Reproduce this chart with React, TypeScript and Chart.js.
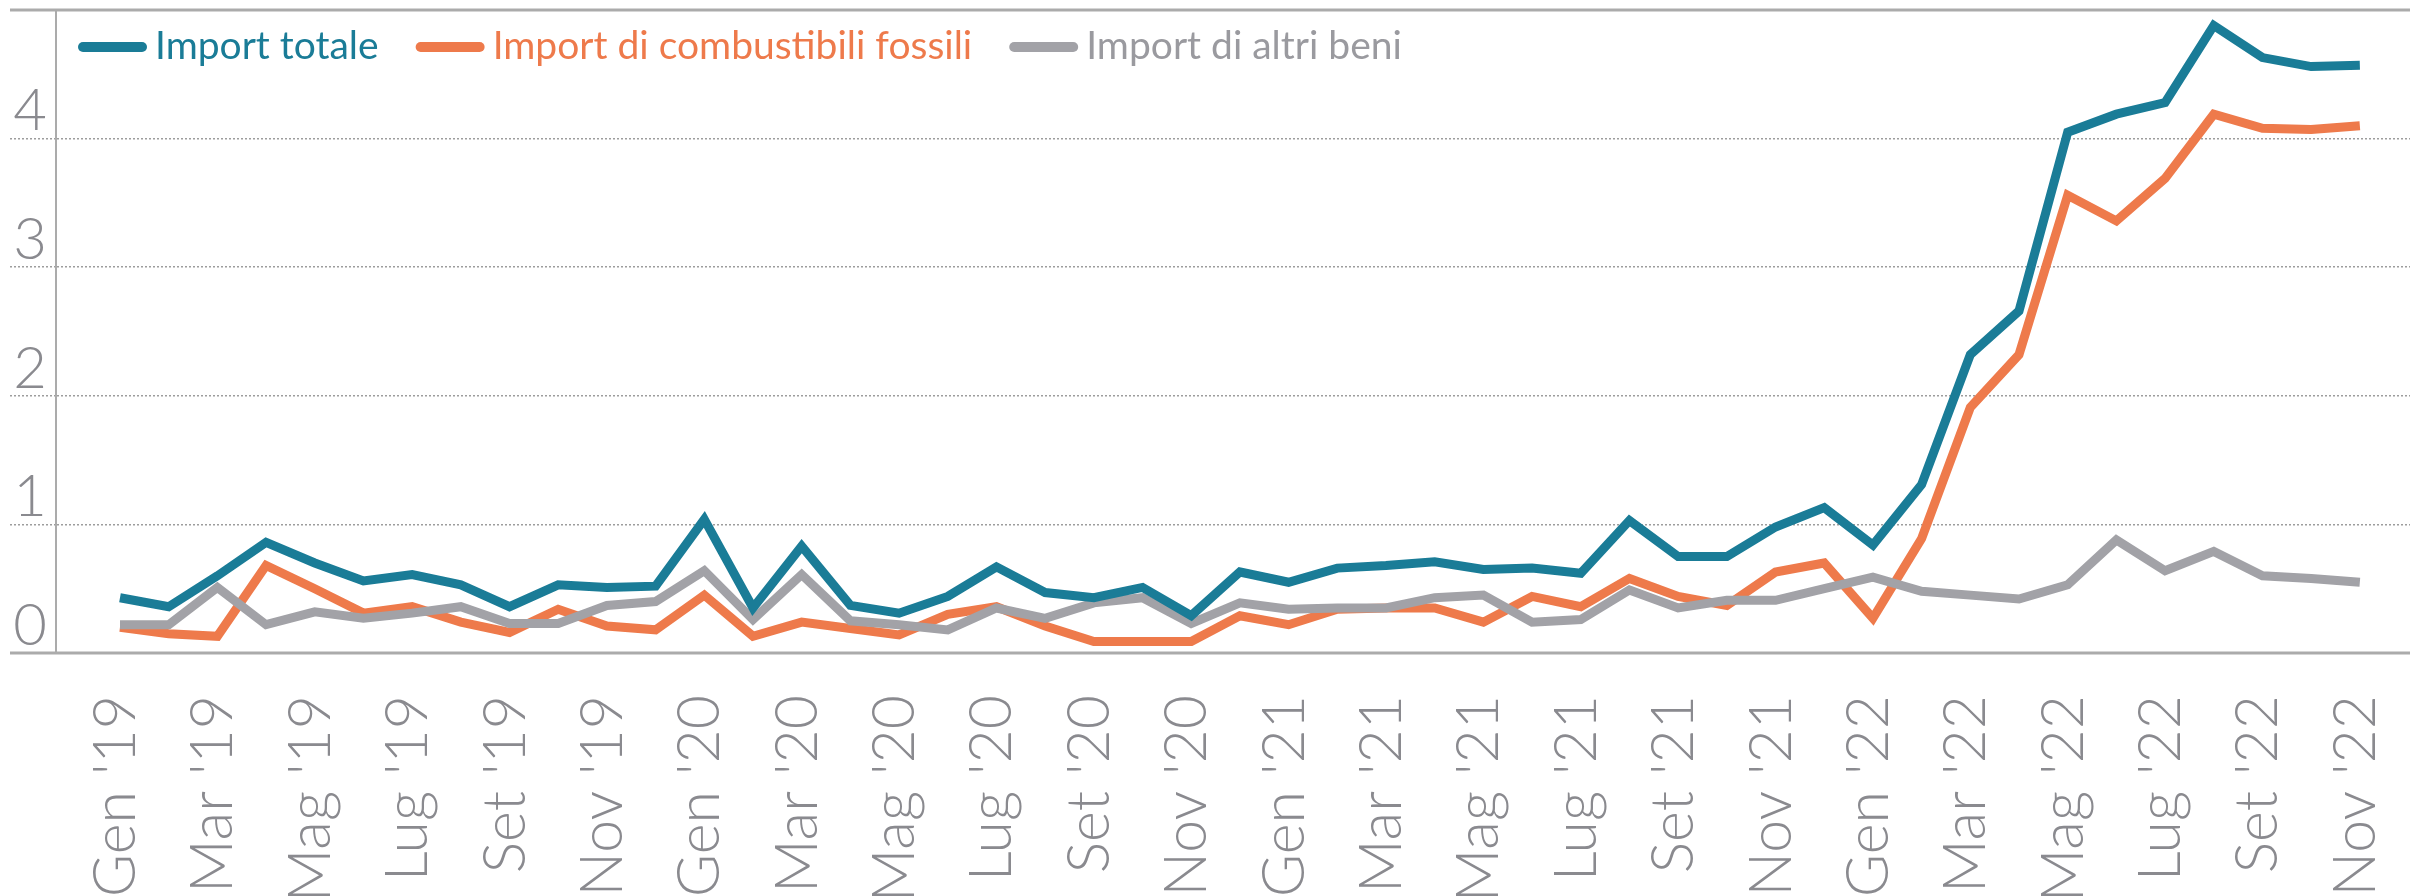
import React, { useEffect, useRef } from 'react';
import { Chart, registerables } from 'chart.js';

Chart.register(...registerables);

const months: string[] = [
  "Gen '19", "Feb '19", "Mar '19", "Apr '19", "Mag '19", "Giu '19", "Lug '19", "Ago '19", "Set '19", "Ott '19", "Nov '19", "Dic '19",
  "Gen '20", "Feb '20", "Mar '20", "Apr '20", "Mag '20", "Giu '20", "Lug '20", "Ago '20", "Set '20", "Ott '20", "Nov '20", "Dic '20",
  "Gen '21", "Feb '21", "Mar '21", "Apr '21", "Mag '21", "Giu '21", "Lug '21", "Ago '21", "Set '21", "Ott '21", "Nov '21", "Dic '21",
  "Gen '22", "Feb '22", "Mar '22", "Apr '22", "Mag '22", "Giu '22", "Lug '22", "Ago '22", "Set '22", "Ott '22", "Nov '22",
];

const importTotale: number[] = [
  0.43, 0.36, 0.60, 0.86, 0.70, 0.56, 0.61, 0.53, 0.36, 0.53, 0.51, 0.52,
  1.04, 0.35, 0.83, 0.37, 0.31, 0.44, 0.67, 0.47, 0.43, 0.51, 0.29, 0.63,
  0.55, 0.66, 0.68, 0.71, 0.65, 0.66, 0.62, 1.03, 0.75, 0.75, 0.98, 1.13,
  0.84, 1.31, 2.32, 2.66, 4.05, 4.19, 4.28, 4.88, 4.63, 4.56, 4.57,
];

const importFossili: number[] = [
  0.20, 0.15, 0.13, 0.68, 0.50, 0.31, 0.36, 0.24, 0.16, 0.34, 0.21, 0.18,
  0.45, 0.13, 0.24, 0.19, 0.14, 0.30, 0.36, 0.21, 0.09, 0.09, 0.09, 0.29,
  0.22, 0.34, 0.35, 0.35, 0.24, 0.44, 0.36, 0.58, 0.44, 0.37, 0.63, 0.70,
  0.27, 0.89, 1.91, 2.32, 3.56, 3.36, 3.69, 4.19, 4.08, 4.07, 4.10,
];

const importAltri: number[] = [
  0.22, 0.22, 0.51, 0.22, 0.32, 0.27, 0.31, 0.36, 0.23, 0.23, 0.37, 0.40,
  0.64, 0.26, 0.61, 0.25, 0.22, 0.18, 0.35, 0.27, 0.39, 0.43, 0.23, 0.39,
  0.34, 0.35, 0.35, 0.43, 0.45, 0.24, 0.26, 0.49, 0.35, 0.41, 0.41, 0.50,
  0.59, 0.48, 0.45, 0.42, 0.53, 0.88, 0.64, 0.79, 0.60, 0.58, 0.55,
];

const seriesLabels: string[] = ['Import totale', 'Import di combustibili fossili', 'Import di altri beni'];
const yTicks: number[] = [0, 1, 2, 3, 4];

const BLUE = '#1a7c97';
const ORANGE = '#ee7a4b';
const GRAY = '#a2a2a7';
const AXIS = '#ababab';
const TEXT_GRAY = '#8a8a8f';

const W = 2410;
const H = 896;

const solidLinesPlugin = {
  id: 'solidLines',
  beforeDatasetsDraw(chart: any) {
    const { ctx, chartArea } = chart;
    const y = chart.scales.y;
    ctx.save();
    ctx.strokeStyle = AXIS;
    ctx.lineWidth = 3;
    ctx.setLineDash([]);
    [0, 5].forEach((v) => {
      const py = Math.round(y.getPixelForValue(v));
      ctx.beginPath();
      ctx.moveTo(chartArea.left - 46, py);
      ctx.lineTo(chart.width, py);
      ctx.stroke();
    });
    ctx.restore();
  },
};

const legendPlugin = {
  id: 'customLegend',
  afterDraw(chart: any) {
    const { ctx } = chart;
    ctx.save();
    ctx.font = '400 39px Lato';
    ctx.textBaseline = 'alphabetic';
    let x = 78;
    const cy = 47;
    chart.data.datasets.forEach((ds: any) => {
      ctx.fillStyle = ds.borderColor;
      ctx.beginPath();
      if (ctx.roundRect) {
        ctx.roundRect(x, cy - 5, 69, 10, 5);
      } else {
        ctx.rect(x, cy - 5, 69, 10);
      }
      ctx.fill();
      x += 69 + 8;
      ctx.fillStyle = ds.legendTextColor || ds.borderColor;
      ctx.fillText(ds.label, x, 59);
      x += ctx.measureText(ds.label).width + 37;
    });
    ctx.restore();
  },
};

export default function App() {
  const canvasRef = useRef<HTMLCanvasElement | null>(null);

  useEffect(() => {
    if (!canvasRef.current) return;
    const toPoints = (arr: number[]) => arr.map((v, i) => ({ x: i, y: v }));
    const chart = new Chart(canvasRef.current, {
      type: 'line',
      data: {
        datasets: [
          {
            label: seriesLabels[0],
            data: toPoints(importTotale),
            borderColor: BLUE,
            backgroundColor: BLUE,
            borderWidth: 9,
            pointRadius: 0,
            tension: 0,
            order: 0,
            legendTextColor: BLUE,
          } as any,
          {
            label: seriesLabels[1],
            data: toPoints(importFossili),
            borderColor: ORANGE,
            backgroundColor: ORANGE,
            borderWidth: 9,
            pointRadius: 0,
            tension: 0,
            order: 2,
            legendTextColor: ORANGE,
          } as any,
          {
            label: seriesLabels[2],
            data: toPoints(importAltri),
            borderColor: GRAY,
            backgroundColor: GRAY,
            borderWidth: 9,
            pointRadius: 0,
            tension: 0,
            order: 1,
            legendTextColor: '#9a9a9f',
          } as any,
        ],
      },
      options: {
        responsive: false,
        animation: false,
        devicePixelRatio: 1,
        layout: { padding: { top: 10, left: 0, right: 0, bottom: 0 } },
        plugins: {
          legend: { display: false },
          tooltip: { enabled: false },
        },
        scales: {
          x: {
            type: 'linear',
            min: -1.314,
            max: 47.03,
            grid: { display: false, drawTicks: false },
            border: { display: false },
            afterBuildTicks: (scale: any) => {
              scale.ticks = months
                .map((_, i) => ({ value: i }))
                .filter((t) => t.value % 2 === 0);
            },
            afterFit: (scale: any) => {
              scale.height = H - 653;
              scale.paddingLeft = 0;
              scale.paddingRight = 0;
            },
            ticks: {
              autoSkip: false,
              minRotation: 90,
              maxRotation: 90,
              padding: 42,
              labelOffset: -4,
              color: TEXT_GRAY,
              font: { family: 'Lato', size: 59, weight: '300' as any },
              callback: (v: any) => months[Number(v)] ?? '',
            },
          },
          y: {
            min: 0,
            max: 5,
            afterBuildTicks: (scale: any) => {
              scale.ticks = [...yTicks, 5].map((v) => ({ value: v }));
            },
            afterFit: (scale: any) => {
              scale.width = 56;
              scale.paddingTop = 0;
              scale.paddingBottom = 0;
            },
            grid: {
              color: (c: any) =>
                c.tick && (c.tick.value === 0 || c.tick.value === 5) ? 'rgba(0,0,0,0)' : '#9d9d9d',
              tickColor: (c: any) =>
                c.tick && (c.tick.value === 0 || c.tick.value === 5) ? 'rgba(0,0,0,0)' : '#9d9d9d',
              lineWidth: 1.5,
              tickWidth: 1.5,
              tickLength: 46,
              drawTicks: true,
              tickBorderDash: [2, 2],
            },
            border: { display: true, color: AXIS, width: 2, dash: [2, 2] },
            ticks: {
              padding: -37,
              labelOffset: -27,
              color: TEXT_GRAY,
              font: { family: 'Lato', size: 58, weight: '300' as any },
              callback: (v: any) => (yTicks.includes(Number(v)) ? String(v) : ''),
            },
          },
        },
      } as any,
      plugins: [solidLinesPlugin, legendPlugin],
    });
    return () => chart.destroy();
  }, []);

  return (
    <div style={{ position: 'absolute', left: 0, top: 0, width: W, height: H, background: '#fff' }}>
      <canvas ref={canvasRef} width={W} height={H} style={{ display: 'block', width: W, height: H }} />
    </div>
  );
}
